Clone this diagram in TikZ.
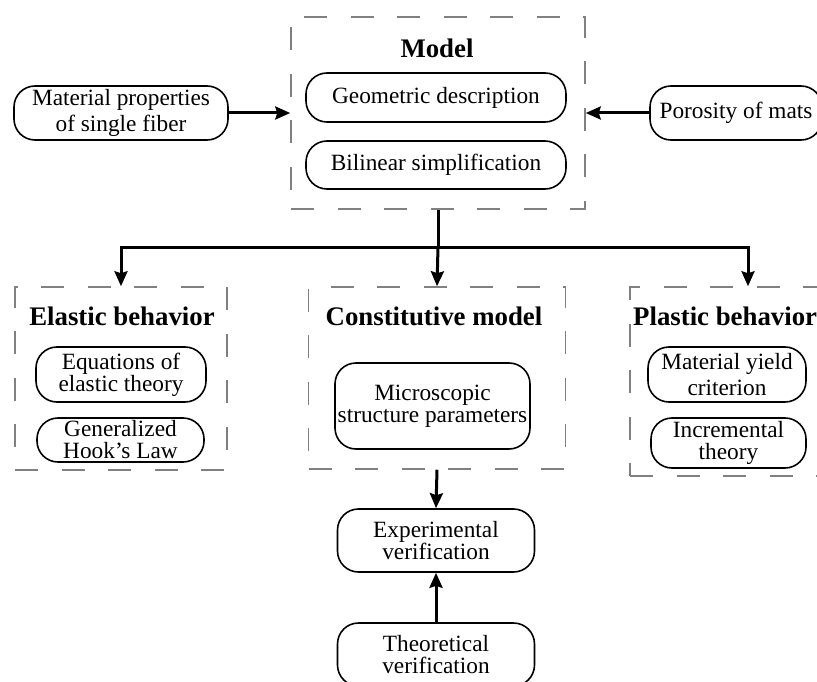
\documentclass[tikz,border=0pt]{standalone}
\usepackage{fontspec}
\setmainfont{Liberation Serif}
\usetikzlibrary{arrows.meta, positioning}

\begin{document}
\begin{tikzpicture}[x=1pt, y=-1pt,
    box/.style={draw, line width=1.6pt, rounded corners=21pt, align=center, inner sep=0pt, font=\fontsize{23.3}{22}\selectfont},
    group/.style={draw=gray, dash pattern=on 23pt off 23.5pt, line width=1.5pt, inner sep=0pt},
    title/.style={font=\fontsize{26.8}{30}\selectfont\bfseries},
    link/.style={-{Stealth[length=15pt, width=13pt, inset=2pt]}, line width=3pt}]

    \useasboundingbox (0,0) rectangle (817,682);

    % Model
    \node[group, minimum width=294pt, minimum height=192pt] (model) at (438,113) {};
    \node[title] (modeltitle) at (437,48) {Model};
    \node[box, minimum width=260pt, minimum height=49pt] (geo) at (436,97.5) {Geometric description};
    \node[box, minimum width=260pt, minimum height=48pt] (bil) at (436,165) {Bilinear simplification};

    % Inputs of the model
    \node[box, minimum width=214pt, minimum height=54pt, font=\fontsize{23.3}{26}\selectfont] (mat) at (121,113) {Material properties\\ of single fiber};
    \node[box, minimum width=172pt, minimum height=54pt] (por) at (736,113) {Porosity of mats};
    \draw[link] (mat.east) -- (model.west);
    \draw[link] (por.west) -- (model.east);

    % Elastic behavior
    \node[group, minimum width=212pt, minimum height=183pt] (elastic) at (121,378.5) {};
    \node[title] (elastictitle) at (122,316) {Elastic behavior};
    \node[box, minimum width=170pt, minimum height=55pt] (eq) at (121,374.5) {Equations of\\ elastic theory};
    \node[box, minimum width=167pt, minimum height=44pt] (gen) at (120.5,440) {Generalized\\ Hook's Law};

    % Constitutive model
    \node[group, minimum width=257pt, minimum height=182pt] (constit) at (437,378) {};
    \node[title] (constittitle) at (434,316) {Constitutive model};
    \node[box, minimum width=195pt, minimum height=86pt] (micro) at (432.5,406) {Microscopic\\ structure parameters};

    % Plastic behavior
    \node[group, minimum width=236pt, minimum height=189pt] (plastic) at (748,381.5) {};
    \node[title, anchor=west, inner sep=0pt] (plastictitle) at (633,316) {Plastic behavior};
    \node[box, minimum width=158pt, minimum height=55pt, font=\fontsize{23.3}{26}\selectfont] (yield) at (727,374.5) {Material yield\\ criterion};
    \node[box, minimum width=155pt, minimum height=50pt] (incr) at (728.5,443) {Incremental\\ theory};

    % Verification
    \node[box, minimum width=197pt, minimum height=63pt] (exp) at (436,540.5) {Experimental\\ verification};
    \node[box, minimum width=197pt, minimum height=63pt] (theo) at (436,654.5) {Theoretical\\ verification};

    % Branches
    \coordinate (split) at (438,247);
    \draw[line width=3pt] (model.south) -- (split);
    \draw[link] (split) -| (elastic.north);
    \draw[link] (split) -- (constit.north);
    \draw[link] (split) -| (plastic.north);
    \draw[link] (constit.south) -- (exp.north);
    \draw[link] (theo.north) -- (exp.south);
\end{tikzpicture}
\end{document}
